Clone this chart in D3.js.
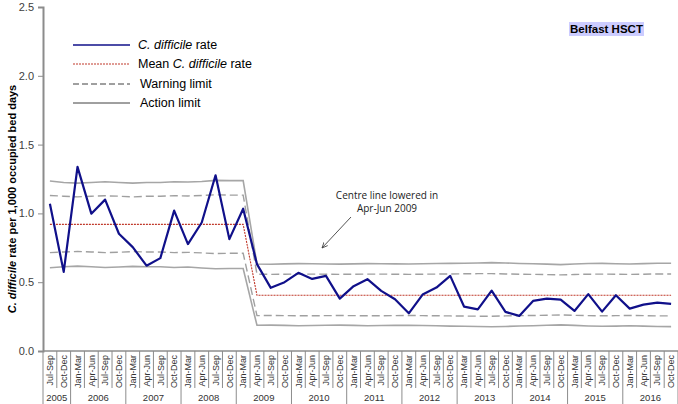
<!DOCTYPE html>
<html><head><meta charset="utf-8">
<script src="https://cdn.jsdelivr.net/npm/d3@7"></script>
<style>body{margin:0;background:#fff}svg{display:block;font-family:"Liberation Sans",Arial,sans-serif}</style>
</head><body><svg id="c" width="678" height="404"></svg>
<script>
const quarters = ["Jul-Sep","Oct-Dec",
 "Jan-Mar","Apr-Jun","Jul-Sep","Oct-Dec","Jan-Mar","Apr-Jun","Jul-Sep","Oct-Dec",
 "Jan-Mar","Apr-Jun","Jul-Sep","Oct-Dec","Jan-Mar","Apr-Jun","Jul-Sep","Oct-Dec",
 "Jan-Mar","Apr-Jun","Jul-Sep","Oct-Dec","Jan-Mar","Apr-Jun","Jul-Sep","Oct-Dec",
 "Jan-Mar","Apr-Jun","Jul-Sep","Oct-Dec","Jan-Mar","Apr-Jun","Jul-Sep","Oct-Dec",
 "Jan-Mar","Apr-Jun","Jul-Sep","Oct-Dec","Jan-Mar","Apr-Jun","Jul-Sep","Oct-Dec",
 "Jan-Mar","Apr-Jun","Jul-Sep","Oct-Dec"];
const years = ["2005","2006","2007","2008","2009","2010","2011","2012","2013","2014","2015","2016"];
const yearCounts = [2,4,4,4,4,4,4,4,4,4,4,4];
const rate = [1.07,0.575,1.338,0.998,1.10,0.852,0.755,0.62,0.675,1.02,0.777,0.934,1.277,0.813,1.034,
 0.631,0.459,0.50,0.568,0.524,0.546,0.381,0.471,0.522,0.437,0.376,0.274,0.41,0.461,0.546,
 0.323,0.303,0.439,0.284,0.255,0.364,0.381,0.374,0.291,0.413,0.286,0.405,0.308,0.337,0.352,0.342];
const meanRate = [0.92,0.92,0.92,0.92,0.92,0.92,0.92,0.92,0.92,0.92,0.92,0.92,0.92,0.92,0.92,
 0.405,0.405,0.405,0.405,0.405,0.405,0.405,0.405,0.405,0.405,0.405,0.405,0.405,0.405,0.405,0.405,
 0.405,0.405,0.405,0.405,0.405,0.405,0.405,0.405,0.405,0.405,0.405,0.405,0.405,0.405,0.405];
const upperAction = [1.235,1.225,1.22,1.225,1.23,1.225,1.22,1.225,1.225,1.23,1.228,1.232,1.24,1.238,1.238,
 0.632,0.630,0.633,0.635,0.634,0.632,0.631,0.633,0.635,0.634,0.633,0.632,0.634,0.636,0.637,0.638,
 0.640,0.642,0.640,0.636,0.634,0.631,0.628,0.632,0.636,0.637,0.634,0.632,0.635,0.638,0.638];
const upperWarning = [1.13,1.125,1.12,1.125,1.128,1.125,1.12,1.125,1.125,1.128,1.127,1.13,1.135,1.133,1.133,
 0.558,0.557,0.558,0.559,0.559,0.558,0.557,0.558,0.559,0.559,0.558,0.557,0.558,0.559,0.560,0.561,
 0.562,0.562,0.560,0.558,0.557,0.555,0.553,0.556,0.558,0.559,0.558,0.557,0.558,0.560,0.560];
const lowerWarning = [0.715,0.72,0.723,0.72,0.715,0.718,0.722,0.72,0.72,0.715,0.717,0.713,0.708,0.71,0.71,
 0.257,0.258,0.257,0.256,0.256,0.257,0.258,0.257,0.256,0.256,0.257,0.258,0.257,0.256,0.255,0.254,
 0.253,0.253,0.255,0.257,0.258,0.260,0.262,0.259,0.257,0.256,0.257,0.258,0.257,0.255,0.255];
const lowerAction = [0.605,0.612,0.617,0.612,0.607,0.61,0.615,0.612,0.612,0.607,0.61,0.603,0.598,0.6,0.6,
 0.187,0.188,0.186,0.184,0.185,0.187,0.188,0.186,0.184,0.185,0.186,0.187,0.185,0.183,0.181,0.180,
 0.178,0.176,0.178,0.182,0.184,0.187,0.190,0.186,0.182,0.180,0.181,0.183,0.181,0.178,0.177];
const yTicks = [0,0.5,1.0,1.5,2.0,2.5];

const svg = d3.select("#c");
const idx = d3.range(quarters.length);
const x = d3.scaleBand().domain(idx).range([43,678]);
const y = d3.scaleLinear().domain([0,2.5]).range([351,7]);
const cx = i => x(i) + x.bandwidth()/2;

// y axis
const ya = svg.append("g").attr("transform","translate(43,0)")
  .call(d3.axisLeft(y).tickValues(yTicks).tickFormat(d3.format(".1f")).tickSize(5).tickPadding(4));
ya.select(".domain").attr("stroke","#8c8c8c").attr("stroke-width",2);
ya.selectAll(".tick line").attr("stroke","#8c8c8c");
ya.selectAll(".tick text").attr("fill","#404040").attr("font-size","11px").attr("font-family","Liberation Sans, Arial");

// x axis baseline & separators
svg.append("line").attr("x1",43).attr("x2",678).attr("y1",351).attr("y2",351).attr("stroke","#8c8c8c").attr("stroke-width",1.5);
const yearStarts = [];
let acc = 0; yearCounts.forEach(c=>{yearStarts.push(acc); acc+=c;});
svg.append("g").selectAll("line").data(idx.concat([quarters.length])).join("line")
  .attr("x1",i=> i<quarters.length ? x(i) : x(quarters.length-1)+x.bandwidth())
  .attr("x2",i=> i<quarters.length ? x(i) : x(quarters.length-1)+x.bandwidth())
  .attr("y1",351)
  .attr("y2",i=> (yearStarts.includes(i)||i===quarters.length) ? 404 : 388)
  .attr("stroke","#8c8c8c").attr("stroke-width",1);
svg.append("g").selectAll("text").data(idx).join("text")
  .attr("transform",i=>`translate(${cx(i)+3.2},355) rotate(-90)`)
  .attr("text-anchor","end").attr("font-size","9px").attr("fill","#333")
  .text(i=>quarters[i]);
svg.append("g").selectAll("text").data(years).join("text")
  .attr("x",(d,k)=>{const s=yearStarts[k], e=s+yearCounts[k]-1; return (x(s)+x(e)+x.bandwidth())/2;})
  .attr("y",401).attr("text-anchor","middle").attr("font-size","9.5px").attr("fill","#333")
  .text(d=>d);

// series
const line = d3.line().x((d,i)=>cx(i)).y(d=>y(d));
const lim = (data,dash,col,w)=> svg.append("path").datum(data).attr("d",line).attr("fill","none")
  .attr("stroke",col).attr("stroke-width",w).attr("stroke-dasharray",dash);
lim(lowerAction,null,"#a6a6a6",1.6);
lim(upperAction,null,"#a6a6a6",1.6);
lim(lowerWarning,"8,4","#a0a0a0",1.4);
lim(upperWarning,"8,4","#a0a0a0",1.4);
lim(meanRate,"2,1","#c0392b",1.1);
svg.append("path").datum(rate).attr("d",line).attr("fill","none").attr("stroke","#10108a").attr("stroke-width",2.2).attr("stroke-linejoin","round");

// legend
const leg = [
 {t:[["C. difficile",true],["rate",false]],stroke:"#10108a",w:1.5,dash:null},
 {t:[["Mean ",false],["C. difficile",true],["rate",false]],stroke:"#c0392b",w:1,dash:"2,1"},
 {t:[["Warning limit",false]],stroke:"#404040",w:1,dash:"6,3"},
 {t:[["Action limit",false]],stroke:"#404040",w:1,dash:null}];
const ly=[45,64,84,103];
leg.forEach((l,k)=>{
  svg.append("line").attr("x1",73).attr("x2",130).attr("y1",ly[k]).attr("y2",ly[k]).attr("stroke",l.stroke).attr("stroke-width",l.w).attr("stroke-dasharray",l.dash);
  const t=svg.append("text").attr("x",k>=2?140:138).attr("y",ly[k]+4).attr("font-size","12.5px").attr("fill","#000");
  l.t.forEach(([s,it],j)=>t.append("tspan").attr("font-style",it?"italic":"normal").text((j>0&&!it&&s==="rate"?" ":"")+s));
});

// title box
svg.append("rect").attr("x",569).attr("y",22).attr("width",75).attr("height",14).attr("fill","#ccccff");
svg.append("text").attr("x",606.5).attr("y",33).attr("text-anchor","middle").attr("font-size","11.5px").attr("font-weight","bold").attr("fill","#000").text("Belfast HSCT");

// y label
const yl=svg.append("text").attr("transform","translate(16,199) rotate(-90)").attr("text-anchor","middle").attr("font-size","11px").attr("font-weight","bold").attr("fill","#000");
yl.append("tspan").attr("font-style","italic").text("C. difficile");
yl.append("tspan").text(" rate per 1,000 occupied bed days");

// annotation
svg.append("defs").append("marker").attr("id","ah").attr("viewBox","0 0 10 10").attr("refX",9).attr("refY",5)
 .attr("markerWidth",7).attr("markerHeight",7).attr("orient","auto")
 .append("path").attr("d","M0,1 L9,5 L0,9").attr("fill","none").attr("stroke","#404040").attr("stroke-width",1.3);
svg.append("line").attr("x1",351).attr("y1",217).attr("x2",322).attr("y2",248).attr("stroke","#404040").attr("stroke-width",0.9).attr("marker-end","url(#ah)");
svg.append("text").attr("x",387).attr("y",199).attr("text-anchor","middle").attr("font-size","10px").attr("font-family","Open Sans, sans-serif").attr("fill","#222").text("Centre line lowered in");
svg.append("text").attr("x",387).attr("y",212).attr("text-anchor","middle").attr("font-size","10px").attr("font-family","Open Sans, sans-serif").attr("fill","#222").text("Apr-Jun 2009");
</script></body></html>
